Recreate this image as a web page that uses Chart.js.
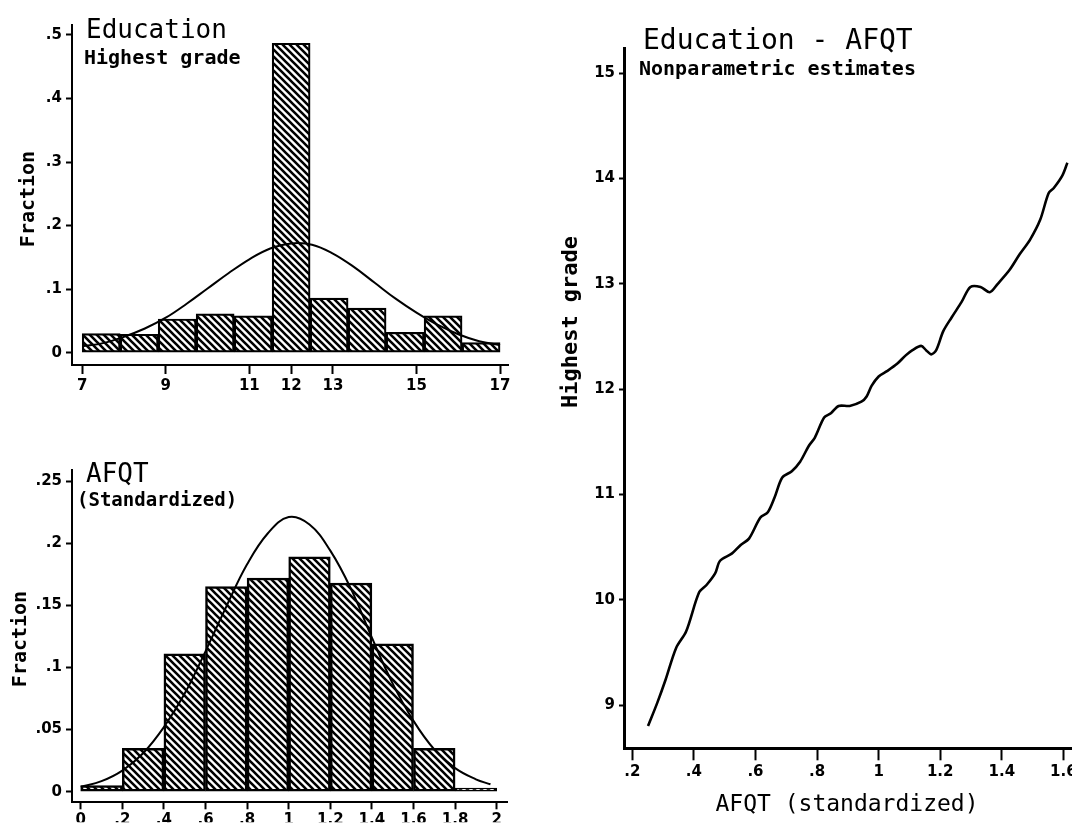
<!DOCTYPE html>
<html><head><meta charset="utf-8">
<script src="https://cdn.jsdelivr.net/npm/chart.js@4.4.1/dist/chart.umd.min.js"></script>
<style>
html,body{margin:0;padding:0;background:#fff;overflow:hidden;width:1072px;height:828px;position:relative;}
canvas{position:absolute;}
</style></head><body>
<canvas id="cA" width="520" height="410" style="left:0;top:0;width:520px;height:410px"></canvas>
<canvas id="cB" width="520" height="408" style="left:0;top:420px;width:520px;height:408px"></canvas>
<canvas id="cC" width="560" height="828" style="left:540px;top:0;width:560px;height:828px"></canvas>
<script>
// ---------- DATA ----------
// Education histogram (highest grade), 11 bins from 7 to 17
const eduBinCenters = [7.4545, 8.3636, 9.2727, 10.1818, 11.0909, 12.0, 12.9091, 13.8182, 14.7273, 15.6364, 16.5455];
const eduFraction   = [0.030, 0.029, 0.053, 0.061, 0.058, 0.487, 0.086, 0.070, 0.032, 0.058, 0.016];
const eduCurveX = [7, 7.5, 8, 8.5, 9, 9.5, 10, 10.5, 11, 11.5, 12, 12.5, 13, 13.5, 14, 14.5, 15, 15.5, 16, 16.5, 17];
const eduCurveY = [0.010, 0.015, 0.025, 0.038, 0.055, 0.077, 0.101, 0.125, 0.147, 0.164, 0.172, 0.170, 0.156, 0.135, 0.110, 0.085, 0.063, 0.044, 0.029, 0.018, 0.012];
const eduXTicks = [7, 9, 11, 12, 13, 15, 17];
const eduXLabels = ['7', '9', '11', '12', '13', '15', '17'];
const eduYTicks = [0, 0.1, 0.2, 0.3, 0.4, 0.5];
const eduYLabels = ['0', '.1', '.2', '.3', '.4', '.5'];

// AFQT histogram (standardized), 10 bins of width .2 from 0 to 2
const afqtBinCenters = [0.1, 0.3, 0.5, 0.7, 0.9, 1.1, 1.3, 1.5, 1.7, 1.9];
const afqtFraction   = [0.005, 0.035, 0.111, 0.165, 0.172, 0.189, 0.168, 0.119, 0.035, 0.003];
const afqtCurveX = [0, 0.1, 0.2, 0.3, 0.4, 0.5, 0.6, 0.7, 0.8, 0.9, 1.0, 1.1, 1.2, 1.3, 1.4, 1.5, 1.6, 1.7, 1.8, 1.9, 1.97];
const afqtCurveY = [0.004, 0.0085, 0.017, 0.031, 0.052, 0.079, 0.113, 0.149, 0.183, 0.208, 0.221, 0.215, 0.194, 0.163, 0.124, 0.087, 0.057, 0.034, 0.019, 0.010, 0.006];
const afqtXTicks = [0, 0.2, 0.4, 0.6, 0.8, 1, 1.2, 1.4, 1.6, 1.8, 2];
const afqtXLabels = ['0', '.2', '.4', '.6', '.8', '1', '1.2', '1.4', '1.6', '1.8', '2'];
const afqtYTicks = [0, 0.05, 0.1, 0.15, 0.2, 0.25];
const afqtYLabels = ['0', '.05', '.1', '.15', '.2', '.25'];

// Education - AFQT nonparametric estimate
const npX = [0.251,0.281,0.308,0.342,0.375,0.417,0.441,0.469,0.485,0.524,0.552,0.579,0.616,0.640,0.662,0.687,0.718,0.745,0.773,0.793,0.823,0.845,0.870,0.906,0.944,0.961,0.977,1.000,1.027,1.060,1.088,1.110,1.138,1.154,1.171,1.187,1.210,1.237,1.270,1.298,1.331,1.361,1.387,1.425,1.458,1.492,1.525,1.552,1.569,1.597,1.613];
const npY = [8.80,9.02,9.24,9.54,9.70,10.07,10.14,10.25,10.37,10.44,10.52,10.58,10.78,10.83,10.97,11.16,11.22,11.31,11.46,11.54,11.73,11.77,11.84,11.84,11.88,11.93,12.03,12.12,12.17,12.24,12.32,12.37,12.41,12.37,12.33,12.37,12.55,12.68,12.83,12.97,12.97,12.92,13.00,13.13,13.28,13.42,13.61,13.86,13.91,14.03,14.15];
const npXTicks = [0.2, 0.4, 0.6, 0.8, 1, 1.2, 1.4, 1.6];
const npXLabels = ['.2', '.4', '.6', '.8', '1', '1.2', '1.4', '1.6'];
const npYTicks = [9, 10, 11, 12, 13, 14, 15];
const npYLabels = ['9', '10', '11', '12', '13', '14', '15'];

// ---------- STYLE ----------
const MONO = '"DejaVu Sans Mono", monospace';
const TICKF = '"DejaVu Sans", sans-serif';
Chart.defaults.color = '#000';

function hatchPattern() {
  const s = 7;
  const c = document.createElement('canvas');
  c.width = s; c.height = s;
  const g = c.getContext('2d');
  g.fillStyle = '#fff'; g.fillRect(0, 0, s, s);
  g.strokeStyle = '#000'; g.lineWidth = 2.6;
  g.beginPath();
  g.moveTo(-2, -2); g.lineTo(s + 2, s + 2);
  g.moveTo(-2, s - 2); g.lineTo(2, s + 2);
  g.moveTo(s - 2, -2); g.lineTo(s + 2, 2);
  g.stroke();
  return g.createPattern(c, 'repeat');
}

function axis(o) {
  return {
    type: 'linear', min: o.min, max: o.max, offset: false,
    afterBuildTicks: a => { a.ticks = o.ticks.map(v => ({ value: v })); },
    afterFit: a => { if (o.w != null) a.width = o.w; if (o.h != null) a.height = o.h; },
    ticks: {
      callback: (v, i) => o.labels[i],
      font: { family: TICKF, size: 15, weight: 'bold' }, color: '#000',
      padding: o.pad, maxRotation: 0, minRotation: 0, autoSkip: false
    },
    grid: { display: true, drawOnChartArea: false, drawTicks: true, tickLength: o.tl, tickColor: '#000', tickWidth: 2, offset: false },
    border: { display: true, color: '#000', width: o.bw || 2 },
    title: { display: false }
  };
}

function textPlugin(items) {
  return {
    id: 'texts',
    afterDraw(chart) {
      const ctx = chart.ctx;
      items.forEach(t => {
        ctx.save();
        ctx.fillStyle = '#000';
        ctx.font = t.font;
        ctx.textAlign = t.align || 'left';
        ctx.textBaseline = 'alphabetic';
        ctx.translate(t.x, t.y);
        if (t.rot) ctx.rotate(t.rot);
        ctx.fillText(t.text, 0, 0);
        ctx.restore();
      });
    }
  };
}

const common = {
  responsive: false, animation: false, devicePixelRatio: 1, events: [],
  plugins: { legend: { display: false }, tooltip: { enabled: false }, title: { display: false } }
};

// ---------- CHART A : Education histogram ----------
new Chart(document.getElementById('cA'), {
  type: 'bar',
  data: {
    datasets: [
      { type: 'line', order: 0, data: eduCurveX.map((x, i) => ({ x, y: eduCurveY[i] })),
        borderColor: '#000', borderWidth: 2, pointRadius: 0, tension: 0.4, fill: false },
      { type: 'bar', order: 1, data: eduBinCenters.map((x, i) => ({ x, y: eduFraction[i] })),
        backgroundColor: hatchPattern(), borderColor: '#000', borderWidth: 2.2, borderSkipped: false,
        barPercentage: 1, categoryPercentage: 1 }
    ]
  },
  options: Object.assign({}, common, {
    layout: { padding: { left: 0, top: 25, right: 12, bottom: 5 } },
    scales: {
      x: axis({ min: 6.756, max: 17.19, ticks: eduXTicks, labels: eduXLabels, h: 40, tl: 9, pad: 3 }),
      y: axis({ min: -0.0194, max: 0.5157, ticks: eduYTicks, labels: eduYLabels, w: 72, tl: 6, pad: 4 })
    }
  }),
  plugins: [textPlugin([
    { text: 'Education', font: '26px ' + MONO, x: 86, y: 38 },
    { text: 'Highest grade', font: 'bold 20px ' + MONO, x: 84, y: 64 },
    { text: 'Fraction', font: 'bold 20px ' + MONO, x: 34, y: 199, rot: -Math.PI / 2, align: 'center' }
  ])]
});

// ---------- CHART B : AFQT histogram ----------
new Chart(document.getElementById('cB'), {
  type: 'bar',
  data: {
    datasets: [
      { type: 'line', order: 0, data: afqtCurveX.map((x, i) => ({ x, y: afqtCurveY[i] })),
        borderColor: '#000', borderWidth: 2, pointRadius: 0, tension: 0.4, fill: false },
      { type: 'bar', order: 1, data: afqtBinCenters.map((x, i) => ({ x, y: afqtFraction[i] })),
        backgroundColor: hatchPattern(), borderColor: '#000', borderWidth: 2.5, borderSkipped: false,
        barPercentage: 1, categoryPercentage: 1 }
    ]
  },
  options: Object.assign({}, common, {
    layout: { padding: { left: 0, top: 50, right: 13, bottom: 5.7 } },
    scales: {
      x: axis({ min: -0.0418, max: 2.0495, ticks: afqtXTicks, labels: afqtXLabels, h: 20, tl: 7, pad: 2 }),
      y: axis({ min: -0.0085, max: 0.2589, ticks: afqtYTicks, labels: afqtYLabels, w: 72, tl: 6, pad: 4 })
    }
  }),
  plugins: [textPlugin([
    { text: 'AFQT', font: '26px ' + MONO, x: 86, y: 62 },
    { text: '(Standardized)', font: 'bold 19px ' + MONO, x: 77, y: 86 },
    { text: 'Fraction', font: 'bold 20px ' + MONO, x: 26, y: 219, rot: -Math.PI / 2, align: 'center' }
  ])]
});

// ---------- CHART C : Education - AFQT ----------
new Chart(document.getElementById('cC'), {
  type: 'scatter',
  data: {
    datasets: [
      { data: npX.map((x, i) => ({ x, y: npY[i] })), showLine: true,
        borderColor: '#000', borderWidth: 2.6, pointRadius: 0, tension: 0.3, fill: false }
    ]
  },
  options: Object.assign({}, common, {
    layout: { padding: { left: 0, top: 48, right: 10, bottom: 9.7 } },
    scales: {
      x: axis({ min: 0.173, max: 1.6865, ticks: npXTicks, labels: npXLabels, h: 70, tl: 12, pad: 3, bw: 3 }),
      y: axis({ min: 8.589, max: 15.239, ticks: npYTicks, labels: npYLabels, w: 84, tl: 5, pad: 4, bw: 3 })
    }
  }),
  plugins: [textPlugin([
    { text: 'Education - AFQT', font: '28px ' + MONO, x: 103, y: 49 },
    { text: 'Nonparametric estimates', font: 'bold 20px ' + MONO, x: 99, y: 75 },
    { text: 'Highest grade', font: 'bold 22px ' + MONO, x: 37, y: 322, rot: -Math.PI / 2, align: 'center' },
    { text: 'AFQT (standardized)', font: '23px ' + MONO, x: 307, y: 811, align: 'center' }
  ])]
});
</script>
</body></html>
